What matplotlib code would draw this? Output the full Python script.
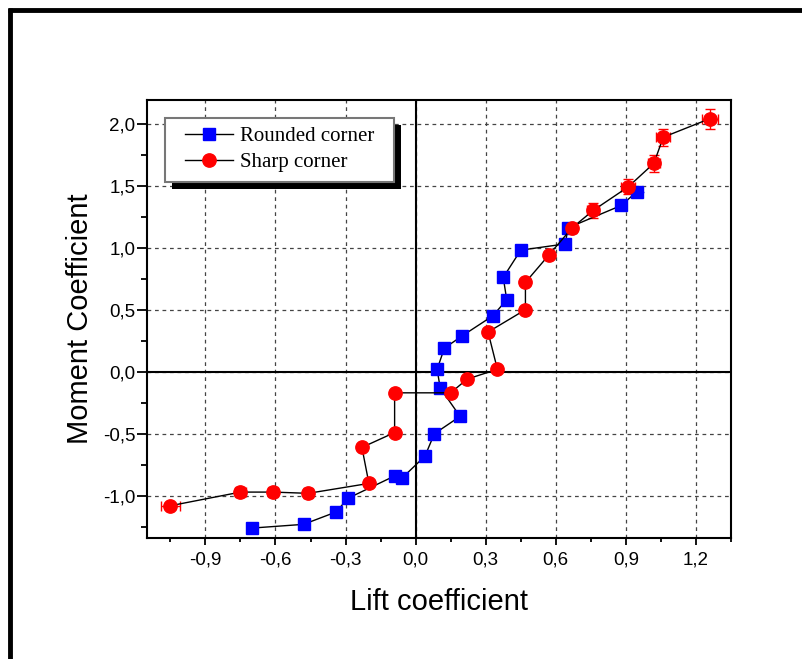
import matplotlib
matplotlib.use("Agg")
import matplotlib.pyplot as plt
from matplotlib.lines import Line2D
from matplotlib.patches import Rectangle
from matplotlib.transforms import IdentityTransform
import numpy as np

# Rounded corner (blue squares)
round_x = [-0.70, -0.48, -0.34, -0.29, -0.09, -0.06, 0.04, 0.08, 0.19, 0.105,
           0.092, 0.123, 0.20, 0.33, 0.39, 0.375, 0.45, 0.64, 0.653, 0.88, 0.946]
round_y = [-1.26, -1.23, -1.13, -1.02, -0.84, -0.86, -0.68, -0.50, -0.36, -0.13,
           0.02, 0.19, 0.29, 0.45, 0.58, 0.76, 0.98, 1.03, 1.16, 1.34, 1.45]
round_xerr = [0.01, 0.01, 0.01, 0.01, 0.01, 0.01, 0.01, 0.01, 0.01, 0.01,
              0.01, 0.01, 0.01, 0.01, 0.01, 0.01, 0.01, 0.01, 0.015, 0.02, 0.03]

# Sharp corner (red circles)
sharp_x = [-1.05, -0.75, -0.61, -0.46, -0.20, -0.23, -0.09, -0.09, 0.15, 0.22,
           0.35, 0.31, 0.47, 0.47, 0.57, 0.67, 0.76, 0.91, 1.02, 1.06, 1.26]
sharp_y = [-1.08, -0.97, -0.97, -0.98, -0.90, -0.61, -0.49, -0.17, -0.17, -0.06,
           0.02, 0.32, 0.50, 0.72, 0.94, 1.16, 1.30, 1.49, 1.68, 1.89, 2.04]
sharp_xerr = [0.04, 0.025, 0.02, 0.02, 0.015, 0.01, 0.01, 0.01, 0.01, 0.01,
              0.01, 0.01, 0.01, 0.01, 0.01, 0.015, 0.025, 0.03, 0.025, 0.03, 0.035]
sharp_yerr = [0.03, 0.04, 0.04, 0.04, 0.03, 0.02, 0.02, 0.02, 0.02, 0.02,
              0.02, 0.03, 0.03, 0.03, 0.03, 0.04, 0.06, 0.06, 0.07, 0.07, 0.08]

xticks = [-0.9, -0.6, -0.3, 0.0, 0.3, 0.6, 0.9, 1.2]
yticks = [-1.0, -0.5, 0.0, 0.5, 1.0, 1.5, 2.0]

plt.rcParams['font.family'] = ['Liberation Sans', 'DejaVu Sans']

fig = plt.figure(figsize=(8.03, 6.59), dpi=100)
ax = fig.add_axes([147/803, 121/659, 584/803, 438/659])

ax.errorbar(round_x, round_y, xerr=round_xerr, color='black', lw=1,
            marker='s', ms=8.5, mfc='blue', mec='blue', ecolor='#3a3aff',
            elinewidth=1, capsize=0, zorder=3)
ax.errorbar(sharp_x, sharp_y, xerr=sharp_xerr, yerr=sharp_yerr, color='black', lw=1,
            marker='o', ms=9.6, mfc='red', mec='red', ecolor='red',
            elinewidth=1, capsize=3.5, capthick=1, zorder=3)

ax.set_xlim(-1.15, 1.35)
ax.set_ylim(-1.34, 2.19)

ax.axhline(0, color='black', lw=1.5, zorder=2)
ax.axvline(0, color='black', lw=1.5, zorder=2)
ax.grid(True, which='major', ls=(0, (3, 3)), color='#444444', lw=0.9)
ax.set_axisbelow(True)

ax.set_xticks(xticks)
ax.set_xticklabels([('%.1f' % v).replace('.', ',') for v in xticks])
ax.set_yticks(yticks)
ax.set_yticklabels([('%.1f' % v).replace('.', ',') for v in yticks])
ax.set_xticks(np.arange(-1.05, 1.36, 0.3), minor=True)
ax.set_yticks(np.arange(-1.25, 2.2, 0.5), minor=True)
ax.tick_params(which='both', direction='out', width=1.3, labelsize=13.5,
               top=False, right=False)
ax.tick_params(axis='x', which='major', length=5, pad=4.7)
ax.tick_params(axis='x', which='minor', length=3)
ax.tick_params(axis='y', which='major', length=7, pad=1.5)
ax.tick_params(axis='y', which='minor', length=4)

for s in ax.spines.values():
    s.set_linewidth(1.5)

ax.set_xlabel('Lift coefficient', fontsize=21, labelpad=14)
ax.set_ylabel('Moment Coefficient', fontsize=21, labelpad=6)

handles = [
    Line2D([], [], color='black', lw=1, marker='s', ms=8.5, mfc='blue', mec='blue'),
    Line2D([], [], color='black', lw=1, marker='o', ms=9.6, mfc='red', mec='red'),
]
leg = ax.legend(handles, ['Rounded corner', 'Sharp corner'], loc='upper left',
                bbox_to_anchor=((176 - 147) / 584, 0.960), borderaxespad=0,
                frameon=False, prop={'family': 'Liberation Serif', 'size': 15},
                handlelength=2.3, handletextpad=0.3, labelspacing=0.3,
                borderpad=0.45)
leg.set_zorder(6)

# legend frame with a solid offset shadow
fig.canvas.draw()
bb = leg.get_window_extent()
extra = 11
shadow = Rectangle((bb.x0 - extra + 7, bb.y0 - 7), bb.width + 2 * extra, bb.height,
                   transform=IdentityTransform(), facecolor='black', edgecolor='none',
                   zorder=5.5, clip_on=False)
frame = Rectangle((bb.x0 - extra, bb.y0), bb.width + 2 * extra, bb.height,
                  transform=IdentityTransform(), facecolor='white', edgecolor='#777777',
                  lw=1.5, zorder=5.8, clip_on=False)
ax.add_artist(shadow)
ax.add_artist(frame)

# outer frame lines
fig.add_artist(Line2D([8/803, 1], [1 - 10/659, 1 - 10/659], color='black', lw=3.5,
                      transform=fig.transFigure, solid_capstyle='butt'))
fig.add_artist(Line2D([10/803, 10/803], [0, 1 - 8/659], color='black', lw=3.5,
                      transform=fig.transFigure, solid_capstyle='butt'))

fig.savefig('out.png', dpi=100)
